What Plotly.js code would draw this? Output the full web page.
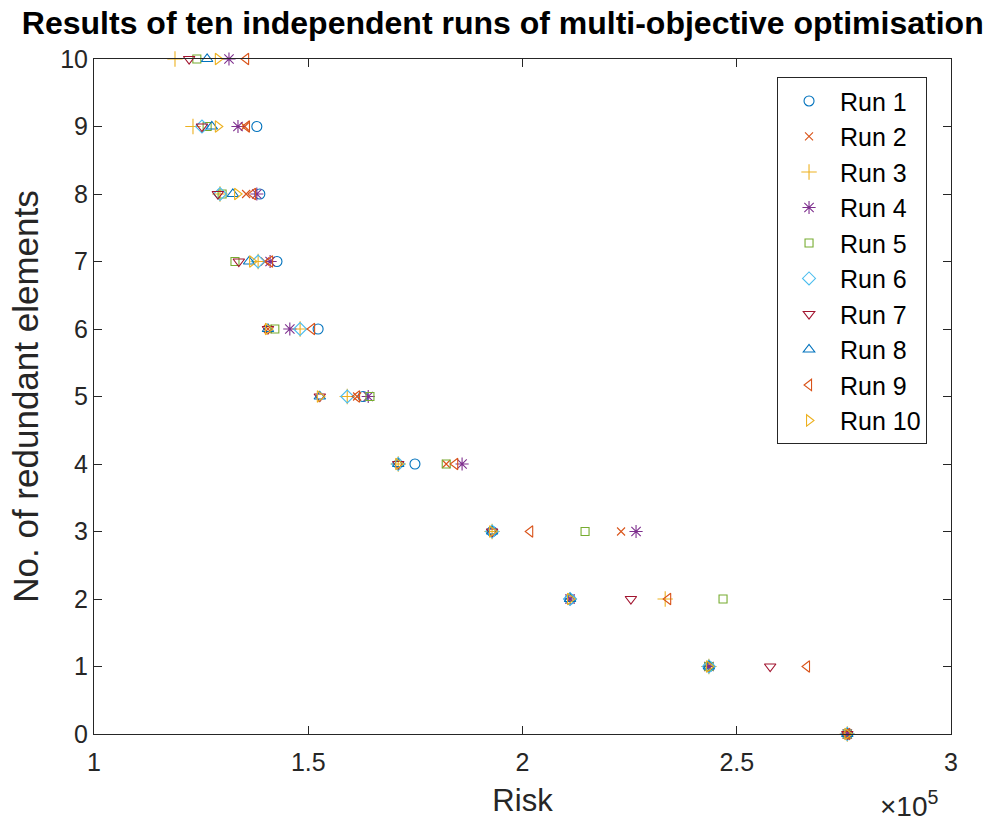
<!DOCTYPE html>
<html>
<head>
<meta charset="utf-8">
<script src="https://cdn.plot.ly/plotly-3.0.1.min.js"></script>
<style>body{margin:0;padding:0;background:#fff;} #chart{width:1006px;height:826px;}</style>
</head>
<body>
<div id="chart"></div>
<script>
// redundancy levels (y) for each run
const levels11 = [0,1,2,3,4,5,6,7,8,9,10];
const levels10 = [0,1,2,3,4,5,6,7,8,9];
const runNames = ["Run 1","Run 2","Run 3","Run 4","Run 5","Run 6","Run 7","Run 8","Run 9","Run 10"];
// Risk values per run (index = number of redundant elements)
const run1  = [275800,243500,211100,192900,174900,162800,152300,142700,138700,138000];
const run2  = [275800,243500,211100,223000,182200,161400,140600,139900,135500,135200];
const run3  = [275800,243500,233300,192900,171000,159100,148100,138300,129400,123100,118900];
const run4  = [275800,243500,211100,226500,185900,164000,145700,141100,138000,133600,131500];
const run5  = [275800,243500,246800,214600,182200,164400,142200,132900,129900,126400,124000];
const run6  = [275800,243500,211100,192900,171000,159100,148100,138300,129400,125200];
const run7  = [275800,257800,225300,192900,171000,152700,140600,133800,128900,125200,122200];
const run8  = [275800,243500,211100,192900,171000,152700,140600,136200,132400,127500,126400];
const run9  = [275800,266400,234000,201800,184300,161400,150900,141100,137100,135700,135500];
const run10 = [275800,243500,211100,192900,171000,152700,140600,136900,133400,128900,128900];
const xTickVals = [100000,150000,200000,250000,300000];
const xTickText = ["1","1.5","2","2.5","3"];
const yTickVals = [0,1,2,3,4,5,6,7,8,9,10];

const runData = [run1,run2,run3,run4,run5,run6,run7,run8,run9,run10];
const symbols = ["circle-open","x-thin-open","cross-thin-open","asterisk-open","square-open",
                 "diamond-open","triangle-down-open","triangle-up-open","triangle-left-open","triangle-right-open"];
const colors = ["#0072BD","#D95319","#EDB120","#7E2F8E","#77AC30","#4DBEEE","#A2142F","#0072BD","#D95319","#EDB120"];
const sizes = [10,8,11,11,8,10,10,10,10,10];

const traces = runData.map((xs,i)=>({
  type:"scatter", mode:"markers", name:runNames[i],
  x: xs, y: xs.length===11 ? levels11 : levels10,
  cliponaxis:false,
  marker:{symbol:symbols[i], size:sizes[i], color:colors[i], line:{color:colors[i], width:1.1}}
}));

const FF = "Liberation Sans, Arial, sans-serif";
const axisFont = {family:FF, size:25, color:"#262626"};
const layout = {
  width:1006, height:826,
  margin:{l:94, r:55, t:59, b:92},
  paper_bgcolor:"#fff", plot_bgcolor:"#fff",
  title:{text:"<b>Results of ten independent runs of multi-objective optimisation</b>",
         font:{family:FF, size:32, color:"#000"},
         x:0.477, xref:"paper", xanchor:"center", y:0.972, yanchor:"middle"},
  xaxis:{range:[100000,300000], tickvals:xTickVals, ticktext:xTickText,
         ticks:"inside", ticklen:8, tickcolor:"#262626", showline:true, linecolor:"#262626", linewidth:1,
         mirror:"ticks", showgrid:false, zeroline:false, tickfont:axisFont, ticklabelstandoff:6,
         title:{text:"Risk", font:{family:FF, size:31, color:"#262626"}, standoff:14}},
  yaxis:{range:[0,10], tickvals:yTickVals,
         ticks:"inside", ticklen:8, tickcolor:"#262626", showline:true, linecolor:"#262626", linewidth:1,
         mirror:"ticks", showgrid:false, zeroline:false, tickfont:axisFont,
         title:{text:"No. of redundant elements", font:{family:FF, size:35, color:"#262626"}, standoff:10}},
  legend:{x:0.797, xanchor:"left", y:0.973, yanchor:"top", bgcolor:"#fff",
          bordercolor:"#262626", borderwidth:1, font:{family:FF, size:25, color:"#000"},
          itemwidth:52, tracegroupgap:0},
  annotations:[{xref:"paper", yref:"paper", x:1.0, y:-0.134, xanchor:"left", yanchor:"bottom", showarrow:false,
                text:"×10<sup>5</sup>", font:{family:FF, size:28, color:"#262626"}, xshift:-73}],
  showlegend:true
};
Plotly.newPlot("chart", traces, layout, {displayModeBar:false, staticPlot:true});
</script>
</body>
</html>
